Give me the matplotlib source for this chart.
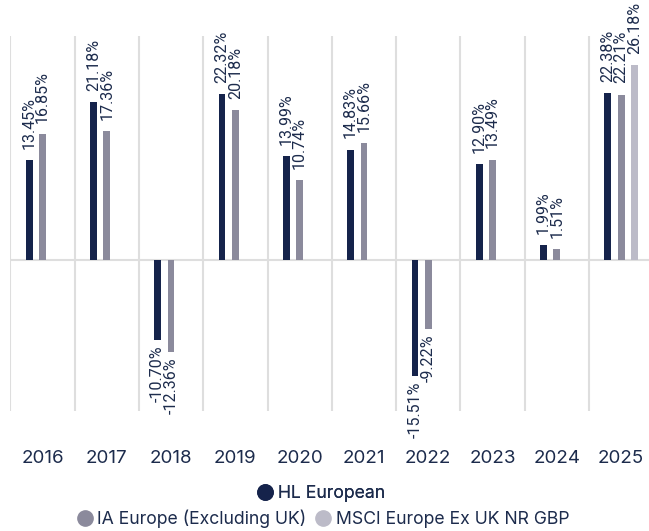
import numpy as np
import matplotlib
matplotlib.use("Agg")
import matplotlib.pyplot as plt
from matplotlib.lines import Line2D

years = ["2016", "2017", "2018", "2019", "2020", "2021", "2022", "2023", "2024", "2025"]
hl_european = [13.45, 21.18, -10.70, 22.32, 13.99, 14.83, -15.51, 12.90, 1.99, 22.38]
ia_europe = [16.85, 17.36, -12.36, 20.18, 10.74, 15.66, -9.22, 13.49, 1.51, 22.21]
msci_europe = [None, None, None, None, None, None, None, None, None, 26.18]

names = ["HL European", "IA Europe (Excluding UK)", "MSCI Europe Ex UK NR GBP"]
colors = ["#15234b", "#8b8a9c", "#bcbbc8"]
text_color = "#1c2b4c"
grid_color = "#dedede"

W, H = 649, 531
fig = plt.figure(figsize=(W / 100, H / 100), dpi=100)
ax = fig.add_axes([10.3 / W, (H - 411) / H, (W - 10.3) / W, 375 / H])
ax.set_xlim(-0.5, 9.433)
ax.set_ylim(-20.27, 30.07)

x = np.arange(len(years))
offsets = [-0.207, 0.0, 0.207]
width = 0.105

for i in range(len(years) + 1):
    ax.axvline(i - 0.5, color=grid_color, lw=1.5, zorder=0)
ax.axhline(0, color=grid_color, lw=1.5, zorder=0)

for series, off, col in zip([hl_european, ia_europe, msci_europe], offsets, colors):
    for xi, v in zip(x, series):
        if v is None:
            continue
        ax.bar(xi + off, v, width=width, color=col, zorder=2)
        label = f"{v:.2f}%"
        if v >= 0:
            ax.annotate(label, (xi + off, v), xytext=(0, 8), textcoords="offset points",
                        rotation=90, ha="center", va="bottom", fontsize=11.5,
                        family="Roboto", color=text_color)
        else:
            ax.annotate(label, (xi + off, v), xytext=(0, -4), textcoords="offset points",
                        rotation=90, ha="center", va="top", fontsize=11.5,
                        family="Roboto", color=text_color)

ax.set_xticks(x)
ax.set_xticklabels(years, fontsize=13.5, family="Inter", color=text_color)
ax.tick_params(axis="x", length=0, pad=28)
ax.set_yticks([])
for s in ax.spines.values():
    s.set_visible(False)

handles = [Line2D([], [], marker="o", linestyle="none", markersize=11,
                  markerfacecolor=c, markeredgecolor=c) for c in colors]

legend_font = {"family": "Inter", "size": 12.7}
leg1 = fig.legend(handles[:1], names[:1], loc="center", bbox_to_anchor=(322 / W, 1 - 494 / H),
                  frameon=False, handlelength=0.7, handletextpad=0.35,
                  prop=legend_font, labelcolor=text_color)
fig.add_artist(leg1)
fig.legend(handles[1:], names[1:], loc="center", bbox_to_anchor=(324 / W, 1 - 519 / H),
           ncol=2, frameon=False, handlelength=0.7, handletextpad=0.35, columnspacing=0.6,
           prop=legend_font, labelcolor=text_color)

fig.savefig("out.png", dpi=100)
